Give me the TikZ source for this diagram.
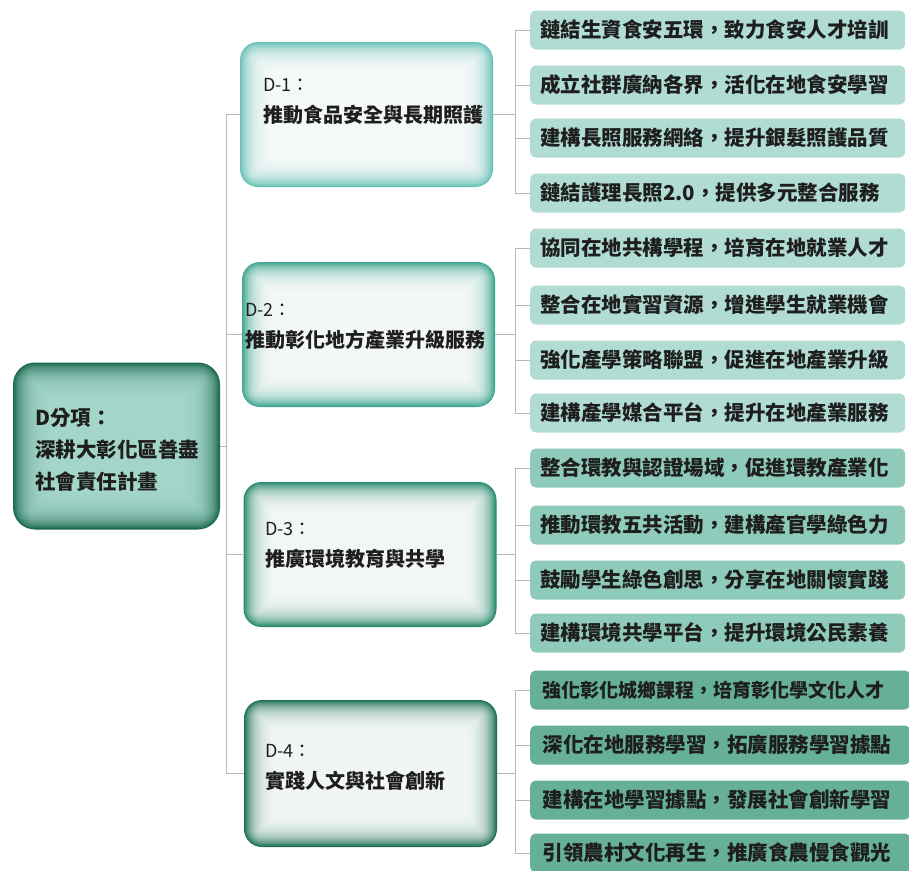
\documentclass[tikz,border=0pt]{standalone}
\usepackage{fontspec}
\setmainfont{Noto Sans CJK TC}
\usetikzlibrary{calc}
\definecolor{edgeA}{HTML}{6CC2B7}
\definecolor{edgeB}{HTML}{3FA791}
\definecolor{edgeC}{HTML}{288A6E}
\definecolor{edgeD}{HTML}{1E7156}
\definecolor{rootEdge}{HTML}{1C6A51}
\definecolor{rootIn}{HTML}{ACDDD0}
\definecolor{itmA}{HTML}{B0DCD3}
\definecolor{itmC}{HTML}{8ECBBA}
\definecolor{itmD}{HTML}{66B195}
\definecolor{conn}{HTML}{B8B8B8}
\definecolor{ink}{HTML}{1E1E1E}
\newcommand\glowbox[6]{% node, glow colour, steps, max radius, step, opacity
  \foreach \k [evaluate=\k as \r using {max(#4-\k*#5,3)}] in {1,...,#3}{
    \fill[#2,opacity=#6,rounded corners=\r pt]
      ([xshift=\k*#5pt,yshift=-\k*#5pt]#1.north west) rectangle
      ([xshift=-\k*#5pt,yshift=\k*#5pt]#1.south east);
  }}
\tikzset{
  connline/.style={draw=conn,line width=0.8pt},
  dbox/.style={minimum width=253pt,minimum height=145pt,rounded corners=18pt,inner sep=0pt},
  dtext/.style={anchor=west,align=left,text=ink,inner sep=0pt,font=\fontsize{18}{31}\selectfont},
  itm/.style={anchor=west,minimum width=370pt,minimum height=39pt,rounded corners=6pt,
    inner xsep=10pt,inner ysep=0pt,text width=355pt,align=left,text=ink,
    font=\fontsize{20.5}{22}\selectfont\bfseries},
}
\begin{document}
\begin{tikzpicture}[x=1pt,y=-1pt]
\useasboundingbox[fill=white] (0,0) rectangle (909,870);

% root
\node[minimum width=207pt,minimum height=167pt,rounded corners=22pt,fill=rootEdge,inner sep=0pt] (root) at (116.5,446) {};
\glowbox{root}{rootIn}{24}{22}{1.5}{0.13}
\node[anchor=west,align=left,text=ink,inner sep=0pt,font=\fontsize{20.5}{32}\selectfont\bfseries] (roott) at (35,450)
  {D分項：\\深耕大彰化區善盡\\社會責任計畫};

% D boxes
\node[dbox,fill=edgeA] (d1) at (366.5,114.5) {};
\glowbox{d1}{white}{20}{18}{1.5}{0.14}
\node[dtext] (d1t) at (263,101) {D-1：\\{\fontsize{20}{31}\selectfont\bfseries 推動食品安全與長期照護}};

\node[dbox,fill=edgeB] (d2) at (368.5,334.5) {};
\glowbox{d2}{white}{20}{18}{1.5}{0.14}
\node[dtext] (d2t) at (245,326) {D-2：\\{\fontsize{20}{31}\selectfont\bfseries 推動彰化地方產業升級服務}};

\node[dbox,fill=edgeC] (d3) at (370,554.5) {};
\glowbox{d3}{white}{20}{18}{1.5}{0.14}
\node[dtext] (d3t) at (265,545) {D-3：\\{\fontsize{20}{31}\selectfont\bfseries 推廣環境教育與共學}};

\node[dbox,fill=edgeD,minimum height=147pt] (d4) at (370.5,773.5) {};
\glowbox{d4}{white}{20}{18}{1.5}{0.14}
\node[dtext] (d4t) at (265,767) {D-4：\\{\fontsize{20}{31}\selectfont\bfseries 實踐人文與社會創新}};

% items group 1
\node[itm,fill=itmA] (a1) at (530,30) {鏈結生資食安五環，致力食安人才培訓};
\node[itm,fill=itmA] (a2) at (530,85) {成立社群廣納各界，活化在地食安學習};
\node[itm,fill=itmA] (a3) at (530,138) {建構長照服務網絡，提升銀髮照護品質};
\node[itm,fill=itmA] (a4) at (530,193) {鏈結護理長照2.0，提供多元整合服務};
% group 2
\node[itm,fill=itmA] (b1) at (530,248) {協同在地共構學程，培育在地就業人才};
\node[itm,fill=itmA] (b2) at (530,305) {整合在地實習資源，增進學生就業機會};
\node[itm,fill=itmA] (b3) at (530,360) {強化產學策略聯盟，促進在地產業升級};
\node[itm,fill=itmA] (b4) at (530,413) {建構產學媒合平台，提升在地產業服務};
% group 3
\node[itm,fill=itmC] (c1) at (530,468) {整合環教與認證場域，促進環教產業化};
\node[itm,fill=itmC] (c2) at (530,525) {推動環教五共活動，建構產官學綠色力};
\node[itm,fill=itmC] (c3) at (530,580) {鼓勵學生綠色創思，分享在地關懷實踐};
\node[itm,fill=itmC] (c4) at (530,633) {建構環境共學平台，提升環境公民素養};
% group 4
\node[itm,fill=itmD,minimum width=380pt,font=\fontsize{19}{22}\selectfont\bfseries] (e1) at (530,690) {強化彰化城鄉課程，培育彰化學文化人才};
\node[itm,fill=itmD,minimum width=380pt] (e2) at (530,745) {深化在地服務學習，拓廣服務學習據點};
\node[itm,fill=itmD,minimum width=380pt] (e3) at (530,800) {建構在地學習據點，發展社會創新學習};
\node[itm,fill=itmD,minimum width=380pt] (e4) at (530,853) {引領農村文化再生，推廣食農慢食觀光};

% connectors
\coordinate (jl) at (226,0);
\coordinate (jr) at (515,0);
\draw[connline] (root.east) -- (root.east -| jl);
\draw[connline] (d1.west -| jl) -- (d4.west -| jl);
\foreach \n in {d1,d2,d3,d4} \draw[connline] (\n.west -| jl) -- (\n.west);
\foreach \d/\p in {d1/a,d2/b,d3/c,d4/e}{
  \draw[connline] (\d.east) -- (\d.east -| jr);
  \draw[connline] (\p1.west -| jr) -- (\p4.west -| jr);
  \foreach \i in {1,2,3,4} \draw[connline] (\p\i.west -| jr) -- (\p\i.west);
}
\end{tikzpicture}
\end{document}
